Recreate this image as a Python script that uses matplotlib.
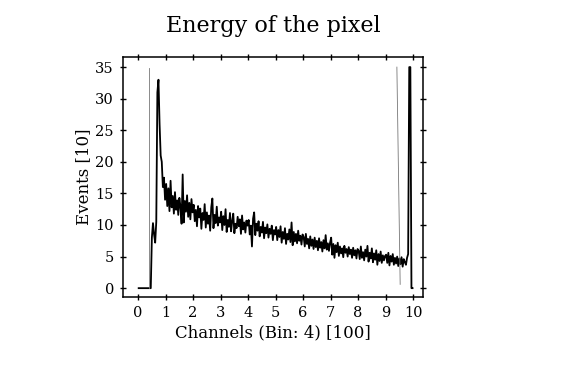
import numpy as np
import matplotlib
matplotlib.use("Agg")
import matplotlib.pyplot as plt

# Histogram: bin width 0.04 (x in units of 100 channels), counts in units of 10
bin_width = 0.04
counts = [
    # 0.00 - 0.96
    0, 0, 0, 0, 0, 0, 0, 0, 0, 0, 0, 0,
    8.0, 10.3, 8.5, 7.2, 10.5, 31, 33, 26, 21, 20, 16, 17.5, 14,
    # 1.00 - 1.96
    16.5, 13, 15.8, 12.2, 17, 12.8, 14.6, 11.8, 15.2, 12.4, 13.9, 11.6, 14.3,
    12.9, 10.2, 18.0, 10.4, 13.8, 12.1, 14.7, 11.3, 13.5, 10.9, 14.1, 12.0,
    # 2.00 - 2.96
    13.2, 10.6, 12.4, 9.8, 13.0, 11.2, 12.6, 9.4, 11.9, 10.8, 13.3, 9.6, 12.0,
    10.2, 11.5, 9.1, 12.8, 14.2, 9.5, 11.6, 10.3, 12.9, 9.9, 11.2, 10.4,
    # 3.00 - 3.96
    12.1, 9.2, 11.4, 10.0, 12.5, 8.9, 10.8, 9.7, 11.9, 9.0, 10.6, 11.8, 8.7,
    10.2, 9.5, 11.3, 9.8, 10.9, 8.6, 11.5, 9.3, 10.4, 8.8, 10.7, 9.9,
    # 4.00 - 4.96
    10.8, 8.5, 9.9, 6.6, 11.0, 12.0, 8.4, 10.2, 9.1, 10.6, 8.2, 9.7, 8.8,
    10.5, 7.9, 9.6, 8.7, 10.1, 8.0, 9.4, 8.6, 9.9, 7.6, 9.2, 8.5,
    # 5.00 - 5.96
    9.7, 7.6, 9.2, 8.1, 9.8, 7.2, 8.9, 7.8, 9.5, 7.0, 8.6, 7.7, 9.3,
    7.3, 10.4, 6.8, 8.9, 7.4, 8.6, 7.1, 9.1, 7.5, 8.3, 6.9, 8.5,
    # 6.00 - 6.96
    8.1, 6.6, 8.6, 7.0, 7.8, 6.3, 8.2, 6.7, 7.7, 6.2, 8.0, 6.5, 7.5,
    6.0, 7.9, 6.4, 7.3, 5.8, 7.6, 6.3, 8.4, 6.1, 7.1, 5.9, 7.2,
    # 7.00 - 7.96
    8.0, 5.3, 7.0, 4.8, 6.8, 5.7, 7.2, 5.1, 6.6, 5.5, 6.3, 4.9, 6.7,
    5.6, 6.2, 5.0, 6.5, 5.4, 6.1, 4.8, 6.4, 5.2, 6.0, 4.7, 6.2,
    # 8.00 - 8.96
    5.9, 4.6, 6.6, 4.8, 5.7, 4.4, 6.1, 5.0, 6.7, 4.2, 5.6, 4.7, 6.3,
    4.1, 5.5, 4.5, 6.0, 3.7, 5.4, 4.3, 5.8, 4.0, 5.2, 4.4, 5.1,
    # 9.00 - 9.96
    5.3, 4.0, 5.6, 3.6, 5.1, 4.2, 5.4, 3.7, 4.8, 3.9, 5.0, 3.5, 4.7,
    3.8, 4.9, 3.4, 4.6, 4.1, 3.7, 4.8, 5.4, 35, 35, 0, 0,
]

# faint scan-ghost lines (x_top, x_bottom, y_top, y_bottom)
ghost_x_top = [0.41, 9.41]
ghost_x_bot = [0.41, 9.53]
ghost_y_top = [34.9, 35.0]
ghost_y_bot = [0.0, 0.6]

x_ticks = list(range(0, 11))
y_ticks = [0, 5, 10, 15, 20, 25, 30, 35]

title = "Energy of the pixel"
xlabel = "Channels (Bin: 4) [100]"
ylabel = "Events [10]"

plt.rcParams["font.family"] = ["DejaVu Serif"]

fig = plt.figure(figsize=(5.62, 3.77), dpi=100)
ax = fig.add_axes([123 / 562, 80 / 377, 300 / 562, 240 / 377])

centers = (np.arange(len(counts)) + 0.5) * bin_width
ax.plot(centers, counts, color="black", lw=1.3)

for xt, xb, yt, yb in zip(ghost_x_top, ghost_x_bot, ghost_y_top, ghost_y_bot):
    ax.plot([xt, xb], [yt, yb], color="#777777", lw=0.6)

ax.set_xlim(-0.55, 10.36)
ax.set_ylim(-1.4, 36.6)
ax.set_xticks(x_ticks)
ax.set_yticks(y_ticks)
ax.tick_params(direction="inout", length=5, width=1, top=True, right=True,
               labelsize=10.5, pad=4, colors="black")
for s in ax.spines.values():
    s.set_linewidth(1.1)

ax.set_title(title, fontsize=16, pad=18)
ax.set_xlabel(xlabel, fontsize=12, labelpad=3)
ax.set_ylabel(ylabel, fontsize=12, labelpad=2)

fig.savefig("out.png", dpi=100)
